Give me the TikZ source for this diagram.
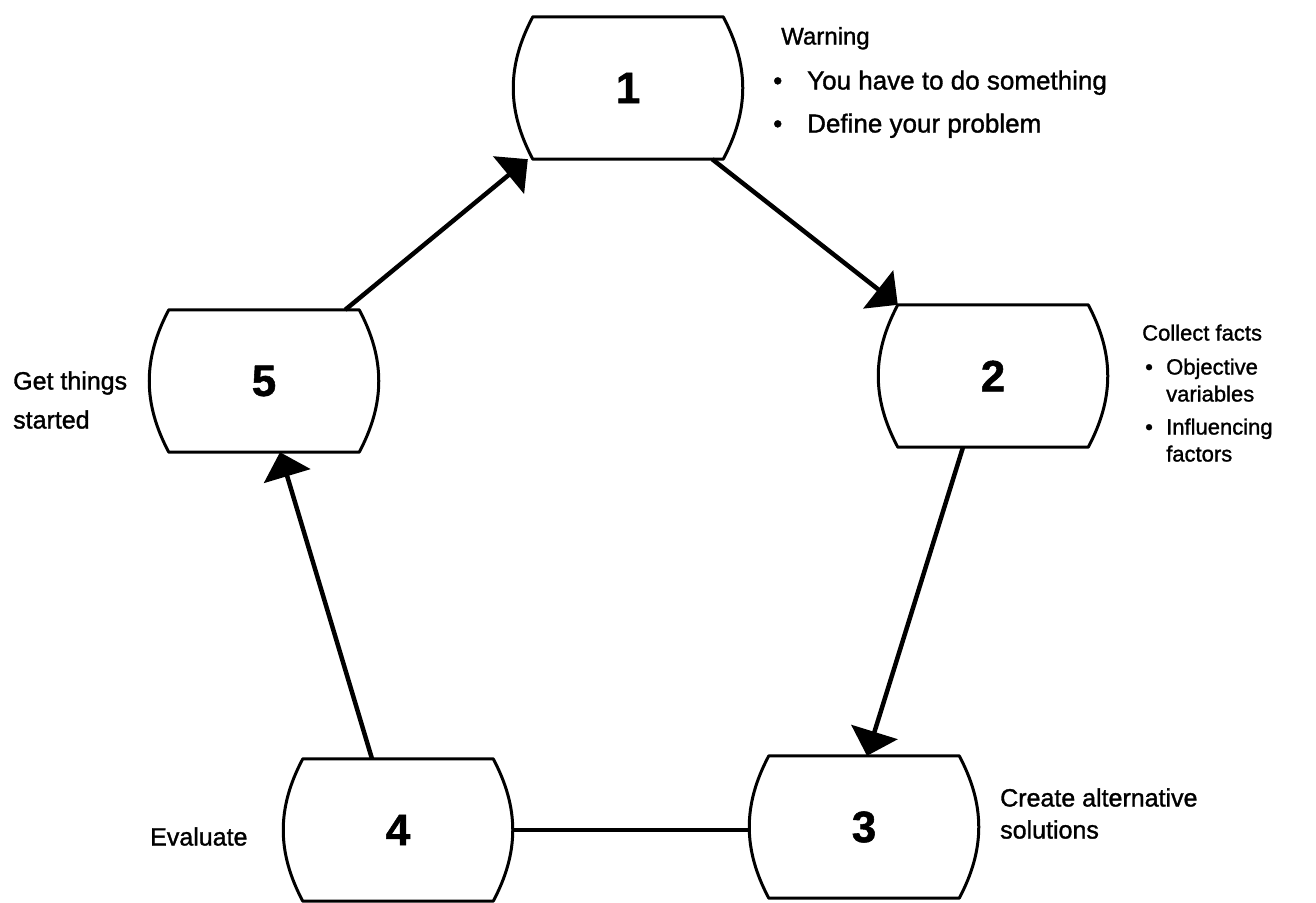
\documentclass[tikz,border=0pt]{standalone}
\usepackage{fontspec}
\setmainfont{Liberation Sans}[FakeBold=1.2]
\newfontfamily\labelfont{Liberation Sans}[FakeBold=1.3]
\usetikzlibrary{arrows.meta,calc}
\begin{document}
\begin{tikzpicture}[x=1pt,y=-1pt,
  stage/.style={draw=none, minimum width=228pt, minimum height=142pt, inner sep=0pt,
    font=\fontsize{44}{44}\selectfont\bfseries},
  outline/.style={line width=3pt, line join=round},
  flow/.style={line width=4.5pt, -{Triangle[length=25pt,width=48pt]}},
  link/.style={line width=4pt},
  note/.style={anchor=west, inner sep=0pt, text height=17pt, text depth=0pt,
    font=\labelfont\fontsize{25}{30}\selectfont},
  small/.style={note, font=\labelfont\fontsize{22}{26}\selectfont},
]
\useasboundingbox (0,0) rectangle (1316,902);

% the five stages of the cycle
\node[stage] (b1) at (628,88) {1};
\node[stage] (b2) at (993,376) {2};
\node[stage] (b3) at (864,827) {3};
\node[stage] (b4) at (398,830) {4};
\node[stage] (b5) at (264,381) {5};

% barrel-shaped outlines: straight top and bottom, bulging sides
\foreach \n in {b1,b2,b3,b4,b5}
  \draw[outline] ($(\n.north west)+(19,0)$) -- ($(\n.north east)+(-19,0)$)
    to[bend left=28] ($(\n.south east)+(-19,0)$) -- ($(\n.south west)+(19,0)$)
    to[bend left=28] cycle;

% connectors
\draw[flow] ($(b5.north east)+(-33,0)$) -- ($(b1.south west)+(14,0)$);
\draw[flow] ($(b1.south east)+(-30,0)$) -- ($(b2.north west)+(19,0)$);
\draw[flow] ($(b2.south)+(-30,0)$) -- ($(b3.north)+(3,0)$);
\draw[flow] ($(b4.north)+(-26,0)$) -- ($(b5.south)+(16,0)$);
\draw[link] (b4.east) -- (b4.east -| b3.west);

% stage descriptions
\node[note, font=\labelfont\fontsize{24}{28}\selectfont] (w0) at (781,36) {Warning};
\node[note, font=\labelfont\fontsize{26}{30}\selectfont] (w1) at (773,81) {\makebox[34pt][l]{\textbullet}You have to do something};
\node[note, font=\labelfont\fontsize{26}{30}\selectfont] (w2) at (773,124) {\makebox[34pt][l]{\textbullet}Define your problem};

\node[small] (c0) at (1142,332) {Collect facts};
\node[small] (c1) at (1145,366) {\makebox[21pt][l]{\textbullet}Objective};
\node[small] (c2) at (1166,393) {variables};
\node[small] (c3) at (1145,426) {\makebox[21pt][l]{\textbullet}Influencing};
\node[small] (c4) at (1166,453) {factors};

\node[note] (s1) at (13,381) {Get things};
\node[note] (s2) at (13,420) {started};

\node[note] (ev) at (150,837) {Evaluate};

\node[note] (a1) at (1000,798) {Create alternative};
\node[note] (a2) at (1000,830) {solutions};
\end{tikzpicture}
\end{document}
